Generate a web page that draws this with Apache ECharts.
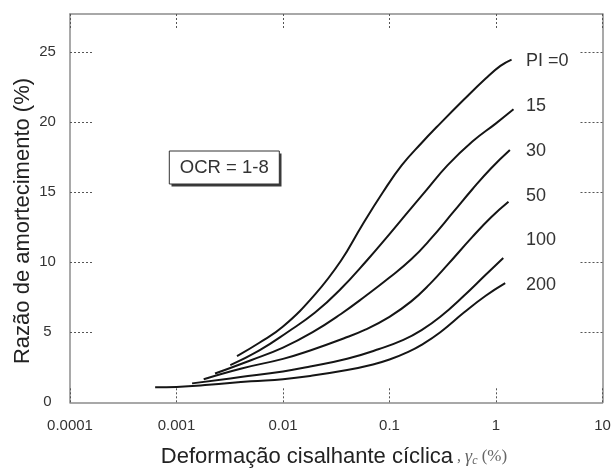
<!DOCTYPE html>
<html>
<head>
<meta charset="utf-8">
<script src="https://cdn.jsdelivr.net/npm/echarts@6.0.0/dist/echarts.min.js"></script>
<style>
html,body{margin:0;padding:0;background:#fff;}
#chart{width:615px;height:468px;}
</style>
</head>
<body>
<div id="chart"></div>
<script>
// ---- data ----
const curveLabels = ['PI =0', '15', '30', '50', '100', '200'];

const strainPI0   = [0.0037, 0.006, 0.01, 0.02, 0.035, 0.055, 0.087, 0.13, 0.2, 0.3, 0.5, 0.8, 1.1, 1.4];
const dampingPI0  = [3.3, 4.25, 5.4, 7.7, 10.1, 12.6, 15.0, 16.9, 18.5, 19.9, 21.6, 23.1, 24.0, 24.45];

const strainPI15  = [0.0032, 0.006, 0.011, 0.02, 0.035, 0.061, 0.1, 0.15, 0.22, 0.35, 0.6, 1.0, 1.46];
const dampingPI15 = [2.65, 3.7, 5.0, 6.4, 8.1, 10.1, 12.0, 13.6, 15.1, 16.9, 18.6, 19.9, 20.9];

const strainPI30  = [0.0023, 0.005, 0.01, 0.019, 0.035, 0.06, 0.1, 0.16, 0.24, 0.4, 0.6, 0.9, 1.35];
const dampingPI30 = [2.05, 3.0, 3.9, 5.0, 6.3, 7.6, 8.9, 10.2, 11.6, 13.6, 15.2, 16.7, 18.0];

const strainPI50  = [0.0018, 0.004, 0.01, 0.018, 0.037, 0.06, 0.1, 0.16, 0.24, 0.35, 0.6, 0.9, 1.31];
const dampingPI50 = [1.65, 2.4, 3.1, 3.7, 4.55, 5.2, 6.1, 7.2, 8.45, 9.8, 11.8, 13.2, 14.3];

const strainPI100  = [0.0014, 0.004, 0.01, 0.018, 0.04, 0.08, 0.135, 0.2, 0.3, 0.5, 0.8, 1.17];
const dampingPI100 = [1.35, 1.8, 2.2, 2.55, 3.1, 3.8, 4.45, 5.15, 6.1, 7.6, 9.1, 10.3];

const strainPI200  = [0.00063, 0.001, 0.002, 0.005, 0.01, 0.018, 0.04, 0.07, 0.1, 0.15, 0.2, 0.3, 0.5, 0.8, 1.22];
const dampingPI200 = [1.07, 1.1, 1.25, 1.5, 1.65, 1.88, 2.3, 2.7, 3.05, 3.6, 4.1, 5.0, 6.4, 7.6, 8.5];

const xTickValues = [0.0001, 0.001, 0.01, 0.1, 1, 10];
const yTickLabels = [0, 5, 10, 15, 20, 25];
const yTickMarks  = [5, 10, 15, 20, 25];

const yTitle = 'Razão de amortecimento (%)';
const xTitle = 'Deformação cisalhante cíclica';
const boxText = 'OCR = 1-8';

// ---- build ----
const strains = [strainPI0, strainPI15, strainPI30, strainPI50, strainPI100, strainPI200];
const dampings = [dampingPI0, dampingPI15, dampingPI30, dampingPI50, dampingPI100, dampingPI200];

const FONT = '"Liberation Sans", Arial, Helvetica, sans-serif';
const axisLineStyle = { color: '#8c8c8c', width: 1.5 };
const tickLineStyle = { type: [2, 2], color: '#555', width: 1 };

function fmtLog(v) { return String(parseFloat(Number(v).toPrecision(4))); }

const series = strains.map((xs, i) => ({
  name: curveLabels[i],
  type: 'line',
  xAxisIndex: 0,
  yAxisIndex: 0,
  showSymbol: false,
  smooth: 0.45,
  silent: true,
  lineStyle: { color: '#151515', width: 2 },
  data: xs.map((x, j) => [x, dampings[i][j]])
}));

const chart = echarts.init(document.getElementById('chart'), null, { renderer: 'canvas' });

const xAxisBase = {
  type: 'log', logBase: 10, min: 0.0001, max: 10,
  axisLine: { show: true, onZero: false, lineStyle: axisLineStyle },
  axisTick: { show: true, inside: true, length: 15, lineStyle: tickLineStyle },
  minorTick: { show: false },
  splitLine: { show: false }
};
const yAxisBase = {
  type: 'value', min: 0, max: 27.7, interval: 5,
  axisLine: { show: true, onZero: false, lineStyle: axisLineStyle },
  axisTick: { show: true, inside: true, length: 22, customValues: yTickMarks, lineStyle: tickLineStyle },
  splitLine: { show: false }
};

const labelGraphics = curveLabels.map((t, i) => ({
  type: 'text', left: 526, top: 62.3 + 44.8 * i - 10,
  style: { text: t, font: '18px ' + FONT, fill: '#333' }
}));

chart.setOption({
  animation: false,
  backgroundColor: '#fff',
  grid: { left: 70, right: 12.5, top: 14, bottom: 65.7 },
  xAxis: [
    Object.assign({}, xAxisBase, {
      position: 'bottom',
      axisLabel: { show: true, formatter: fmtLog, fontSize: 15, color: '#333', fontFamily: FONT, margin: 16, customValues: xTickValues }
    }),
    Object.assign({}, xAxisBase, { position: 'top', axisLabel: { show: false } })
  ],
  yAxis: [
    Object.assign({}, yAxisBase, {
      position: 'left',
      axisLabel: { show: true, customValues: yTickLabels, align: 'center', margin: 22.5, fontSize: 15, color: '#333', fontFamily: FONT }
    }),
    Object.assign({}, yAxisBase, { position: 'right', axisLabel: { show: false } })
  ],
  series: series,
  graphic: [
    { type: 'rect', shape: { x: 171.5, y: 153.5, width: 110, height: 33 }, style: { fill: '#3a3a3a' }, z: 10 },
    { type: 'rect', shape: { x: 169.3, y: 151, width: 110, height: 33 }, style: { fill: '#fff', stroke: '#333', lineWidth: 1 }, z: 11 },
    { type: 'text', x: 224.3, y: 168, z: 12,
      style: { text: boxText, font: '18.5px ' + FONT, fill: '#333', align: 'center', verticalAlign: 'middle' } },
    { type: 'text', x: 23, y: 221, rotation: Math.PI / 2, z: 12,
      style: { text: yTitle, font: '22px ' + FONT, fill: '#222', align: 'center', verticalAlign: 'middle' } },
    { type: 'text', x: 334, y: 457, z: 12,
      style: {
        text: '{a|' + xTitle + '}{b| , }{g|γ}{s|c}{p| (%)}',
        align: 'center', verticalAlign: 'middle',
        rich: {
          a: { font: '22px ' + FONT, fill: '#222' },
          b: { font: '16px "Liberation Serif", serif', fill: '#666' },
          g: { font: 'italic 18px "Liberation Serif", serif', fill: '#666' },
          s: { font: 'italic 12px "Liberation Serif", serif', fill: '#666', padding: [8, 0, 0, 0] },
          p: { font: '17px "Liberation Serif", serif', fill: '#666' }
        }
      } }
  ].concat(labelGraphics)
});
</script>
</body>
</html>
